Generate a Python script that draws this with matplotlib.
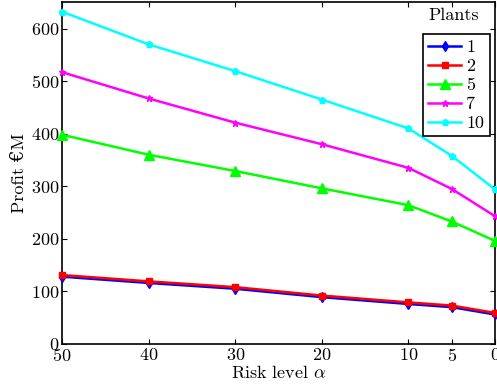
import matplotlib
matplotlib.use('Agg')
import matplotlib.pyplot as plt

# data
alpha = [50, 40, 30, 20, 10, 5, 0]
plants = ['1', '2', '5', '7', '10']
profit_1 = [128, 116, 105, 89, 76, 70, 56]
profit_2 = [131, 119, 108, 92, 79, 73, 59]
profit_5 = [398, 360, 329, 296, 264, 233, 196]
profit_7 = [517, 467, 421, 380, 335, 295, 243]
profit_10 = [632, 570, 519, 465, 410, 358, 294]

plt.rcParams['font.family'] = ['cmr10', 'DejaVu Serif']
plt.rcParams['mathtext.fontset'] = 'cm'
plt.rcParams['axes.formatter.use_mathtext'] = True
plt.rc('xtick', labelsize=13, direction='in', top=True)
plt.rc('ytick', labelsize=13, direction='in', right=True)

fig = plt.figure(figsize=(4.97, 3.86), dpi=100)
ax = fig.add_axes([0.125, 0.109, 0.871, 0.885])

styles = [('blue', 'd'), ('red', 's'), ('lime', '^'), ('magenta', '*'), ('cyan', 'p')]
sizes = [5, 5, 7, 5, 5]
for name, vals, (col, mk), ms in zip(plants, [profit_1, profit_2, profit_5, profit_7, profit_10], styles, sizes):
    ax.plot(alpha, vals, color=col, marker=mk, markersize=ms, lw=1.8, label=name, clip_on=False, zorder=3)

ax.set_xlim(50, 0)
ax.set_ylim(0, 650)
ax.set_xticks(alpha)
ax.set_yticks([0, 100, 200, 300, 400, 500, 600])
ax.tick_params(pad=2)
ax.set_xlabel(r'Risk level $\alpha$', fontsize=13, labelpad=0)
ax.set_ylabel('Profit €M', fontsize=13, labelpad=3)
for s in ax.spines.values():
    s.set_linewidth(1.2)

leg = ax.legend(loc='upper right', bbox_to_anchor=(0.988, 0.906), borderaxespad=0, fontsize=13,
                fancybox=False, edgecolor='k', framealpha=1, handlelength=1.8, borderpad=0.3,
                labelspacing=0.18, handletextpad=0.3)
leg.get_frame().set_linewidth(1.2)
ax.text(0.905, 0.985, 'Plants', transform=ax.transAxes, ha='center', va='top', fontsize=13)

fig.savefig('out.png', dpi=100)
